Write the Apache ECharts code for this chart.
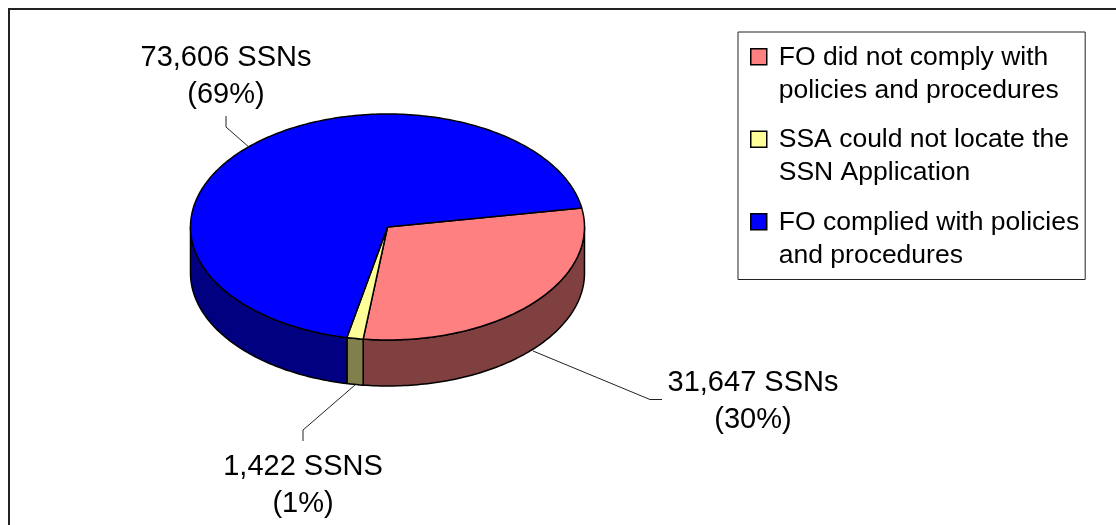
<!DOCTYPE html>
<html>
<head>
<meta charset="utf-8">
<style>
  html, body { margin: 0; padding: 0; background: #fff; }
  #chart { width: 1116px; height: 525px; }
</style>
<script src="https://cdn.jsdelivr.net/npm/echarts@6/dist/echarts.min.js"></script>
</head>
<body>
<div id="chart"></div>
<script>
const categories = [
  "FO did not comply with\npolicies and procedures",
  "SSA could not locate the\nSSN Application",
  "FO complied with policies\nand procedures",
];
const ssnCounts = [31647, 1422, 73606];
const sliceLabels = ["31,647 SSNs\n(30%)", "1,422 SSNS\n(1%)", "73,606 SSNs\n(69%)"];
const topColors = ["#FF8080", "#FFFF99", "#0000FF"];
const wallColors = ["#804040", "#80804D", "#000080"];

// pie geometry, angles are clockwise from 3 o'clock
const cx = 387.5, cy = 227, rx = 197, ry = 113, depth = 46;
const firstAngle = -9.7;
const FONT = '"Liberation Sans", Arial, sans-serif';

// label centre and leader line for each slice
const labelPlaces = [
  { x: 753, y: 401, line: [[533, 351], [650, 399.5], [662, 399.5]] },
  { x: 303, y: 485, line: [[355, 385], [303, 430], [303, 441]] },
  { x: 226, y: 76, line: [[250, 148], [226, 127], [226, 116]] },
];

const total = ssnCounts.reduce((a, b) => a + b, 0);

function sliceAngles(i) {
  let start = firstAngle;
  for (let k = 0; k < i; k++) start += (ssnCounts[k] / total) * 360;
  return [start, start + (ssnCounts[i] / total) * 360];
}

function rimPoint(deg, dy) {
  const a = (deg * Math.PI) / 180;
  return [cx + rx * Math.cos(a), cy + dy + ry * Math.sin(a)];
}

function arcPoints(from, to, dy) {
  const steps = Math.max(2, Math.ceil(Math.abs(to - from)));
  const pts = [];
  for (let s = 0; s <= steps; s++) pts.push(rimPoint(from + ((to - from) * s) / steps, dy));
  return pts;
}

function renderSlice(i) {
  return function (params, api) {
    const [start, end] = sliceAngles(i);
    const children = [];
    // the side wall only shows along the front half of the rim
    const wallFrom = Math.max(start, 0);
    const wallTo = Math.min(end, 180);
    const edge = { stroke: "#000", lineWidth: 1.5, lineJoin: "round" };
    if (wallTo > wallFrom) {
      children.push({
        type: "polygon",
        shape: { points: arcPoints(wallFrom, wallTo, 0).concat(arcPoints(wallTo, wallFrom, depth)) },
        style: { fill: wallColors[i], ...edge },
      });
    }
    children.push({
      type: "polygon",
      shape: { points: [[cx, cy]].concat(arcPoints(start, end, 0)) },
      style: { fill: topColors[i], ...edge },
    });
    const place = labelPlaces[i];
    children.push({
      type: "polyline",
      shape: { points: place.line },
      style: { fill: null, stroke: "#222", lineWidth: 1 },
    });
    children.push({
      type: "text",
      style: {
        text: sliceLabels[i],
        x: place.x,
        y: place.y,
        align: "center",
        verticalAlign: "middle",
        font: "29px " + FONT,
        lineHeight: 37,
        fill: "#000",
      },
    });
    return { type: "group", children: children };
  };
}

const chart = echarts.init(document.getElementById("chart"), null, { renderer: "canvas" });

chart.setOption({
  animation: false,
  backgroundColor: "#fff",
  graphic: [
    {
      // the frame is cut off by the picture on its right and bottom sides
      type: "polyline",
      z: -1,
      shape: { points: [[9, 525], [9, 9], [1116, 9]] },
      style: { fill: null, stroke: "#222", lineWidth: 2 },
    },
  ],
  legend: {
    orient: "vertical",
    left: 738,
    top: 32,
    padding: [8, 6, 7, 12],
    itemWidth: 23,
    itemHeight: 66,
    itemGap: 15,
    // tall empty box so the swatch sits beside the first of the two text lines
    icon: "path://M0,0 L0,0 M0,8 H16 V24 H0 Z M23,66 L23,66",
    itemStyle: { borderColor: "#000", borderWidth: 1.5 },
    backgroundColor: "#fff",
    borderColor: "#222",
    borderWidth: 1,
    selectedMode: false,
    textStyle: { fontFamily: FONT, fontSize: 26.5, lineHeight: 33, color: "#000" },
  },
  series: categories.map((name, i) => ({
    type: "custom",
    name: name,
    coordinateSystem: "none",
    silent: true,
    itemStyle: { color: topColors[i] },
    data: [ssnCounts[i]],
    renderItem: renderSlice(i),
  })),
});
</script>
</body>
</html>
